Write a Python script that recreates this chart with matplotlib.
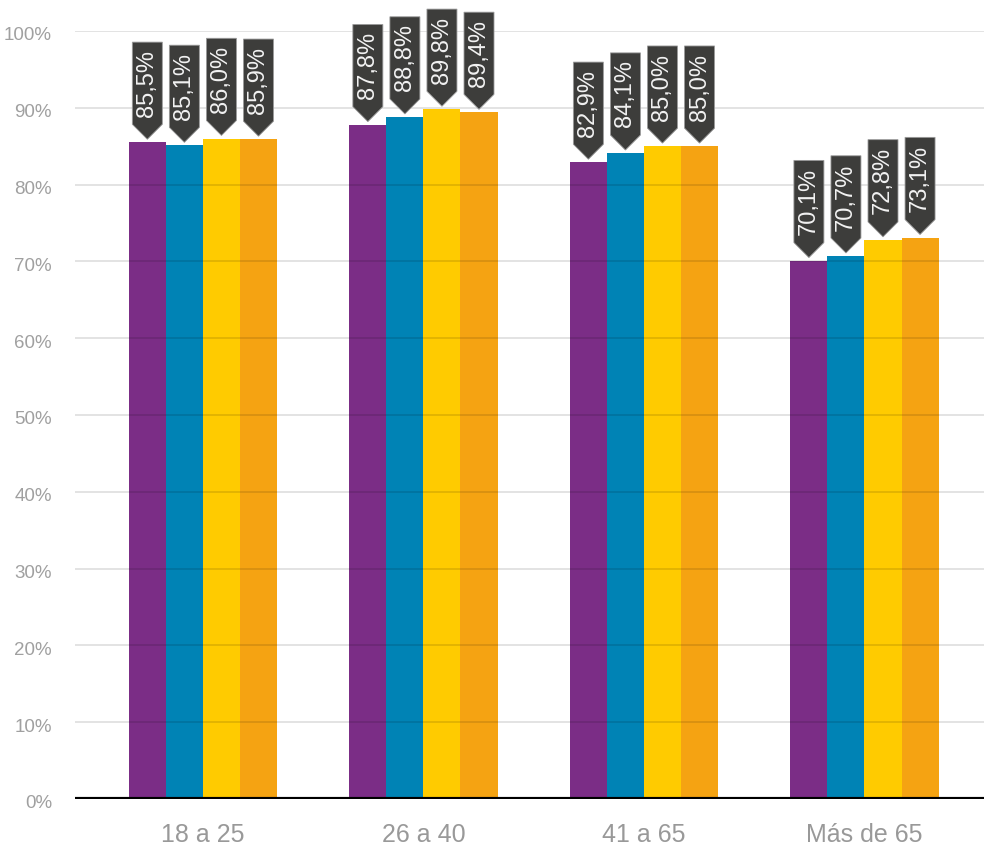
import matplotlib
matplotlib.use("Agg")
import matplotlib.pyplot as plt
import matplotlib.transforms as mtransforms
from matplotlib.patches import Polygon

categories = ["18 a 25", "26 a 40", "41 a 65", "Más de 65"]
series1 = [85.5, 87.8, 82.9, 70.1]
series2 = [85.1, 88.8, 84.1, 70.7]
series3 = [86.0, 89.8, 85.0, 72.8]
series4 = [85.9, 89.4, 85.0, 73.1]
colors = ["#7B2D86", "#0083B5", "#FFCB00", "#F5A312"]
yticks = [0, 10, 20, 30, 40, 50, 60, 70, 80, 90, 100]

plt.rcParams['font.family'] = ['Liberation Sans', 'DejaVu Sans']

fig = plt.figure(figsize=(9.84, 8.51), dpi=100)
ax = fig.add_axes([75/984, 52/851, 1 - 75/984, 768/851])

bw = 0.168
series = [series1, series2, series3, series4]
for i, (vals, c) in enumerate(zip(series, colors)):
    xs = [k + (i - 1.5) * bw for k in range(len(categories))]
    ax.bar(xs, vals, width=bw, color=c, zorder=2, linewidth=0)
    for x, v in zip(xs, vals):
        hw = 0.068
        gap = 0.4
        arrow = 1.95
        rect = 10.7
        tip = v + gap
        pts = [(x, tip), (x - hw, tip + arrow), (x - hw, tip + arrow + rect),
               (x + hw, tip + arrow + rect), (x + hw, tip + arrow)]
        poly = Polygon(pts, closed=True, facecolor="#3d3d3b", edgecolor="#9a9a9a",
                       linewidth=0.6, zorder=4, clip_on=False)
        ax.add_patch(poly)
        ax.text(x, tip + arrow + rect / 2, f"{v:.1f}%".replace(".", ","),
                rotation=90, ha="center", va="center", color="#f2f2f2",
                fontsize=17, zorder=5, clip_on=False)

ax.set_xlim(-0.58, 3.542)
ax.set_ylim(0, 100)
ax.set_yticks(yticks)
ax.set_yticklabels([f"{t}%" for t in yticks])
ax.set_xticks(range(len(categories)))
ax.set_xticklabels(categories)
for t in yticks[1:]:
    ax.axhline(t, color="black", alpha=0.13, linewidth=1.2, zorder=3)
ax.axhline(0, color="black", linewidth=3, zorder=6)

for s in ax.spines.values():
    s.set_visible(False)
ax.tick_params(axis="y", length=0, pad=16.5, labelsize=13.5, labelcolor="#a0a0a0")
ax.tick_params(axis="x", length=0, pad=17, labelsize=18, labelcolor="#999999")

offset = mtransforms.ScaledTranslation(0, -3/100, fig.dpi_scale_trans)
for lbl in ax.get_yticklabels():
    lbl.set_transform(lbl.get_transform() + offset)

fig.savefig("out.png", dpi=100)
